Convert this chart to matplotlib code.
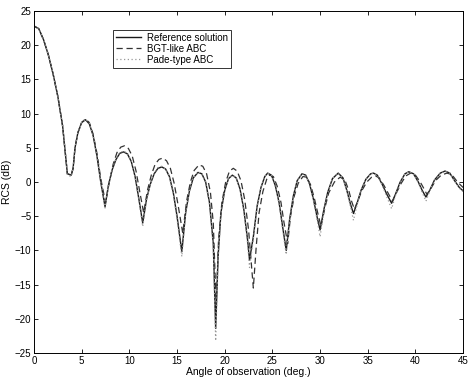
import matplotlib
matplotlib.use("Agg")
import matplotlib.pyplot as plt

plt.rcParams['font.family'] = ['Liberation Sans', 'DejaVu Sans']

# reference solution and Pade-type ABC share the same angle grid
angle = [0.0, 0.5, 1.0, 1.5, 2.0, 2.5, 3.0, 3.3, 3.5, 3.9, 4.1,
         4.3, 4.6, 5.0, 5.4, 5.8, 6.2, 6.6, 7.0, 7.45,
         7.8, 8.2, 8.6, 9.0, 9.4, 9.8, 10.2, 10.6, 11.0, 11.4,
         11.8, 12.2, 12.6, 13.0, 13.4, 13.8, 14.2, 14.6, 15.0, 15.5,
         15.9, 16.3, 16.7, 17.2, 17.6, 18.0, 18.4, 18.8, 19.05,
         19.3, 19.6, 20.0, 20.4, 20.8, 21.2, 21.6, 22.0, 22.4, 22.6,
         23.0, 23.4, 23.8, 24.2, 24.5, 24.9, 25.3, 25.7, 26.1, 26.45,
         26.8, 27.2, 27.6, 28.1, 28.5, 28.9, 29.3, 29.7, 30.0,
         30.4, 30.8, 31.3, 31.9, 32.4, 32.8, 33.2, 33.5,
         33.9, 34.3, 34.8, 35.3, 35.6, 36.0, 36.5, 37.0, 37.5,
         37.9, 38.4, 38.9, 39.3, 39.8, 40.3, 40.7, 41.1,
         41.5, 42.0, 42.6, 43.1, 43.6, 44.1, 44.6, 45.0]

rcs_ref = [22.8, 22.4, 20.8, 18.6, 15.8, 12.5, 8.2, 4.0, 1.2, 1.0, 2.0,
           5.0, 7.2, 8.7, 9.1, 8.5, 6.8, 3.8, 0.0, -3.6,
           -0.5, 1.8, 3.3, 4.2, 4.4, 4.1, 3.0, 0.8, -2.5, -6.0,
           -2.5, -0.3, 1.2, 2.0, 2.2, 1.9, 0.8, -1.5, -5.0, -10.2,
           -4.5, -1.3, 0.6, 1.4, 1.2, 0.0, -3.0, -9.0, -21.4,
           -11.0, -4.5, -1.2, 0.5, 1.0, 0.6, -1.0, -4.0, -8.5, -11.4,
           -8.0, -3.5, -0.8, 0.8, 1.3, 1.0, -0.5, -3.0, -6.8, -10.0,
           -5.5, -2.0, 0.2, 1.2, 1.0, -0.3, -2.5, -5.2, -7.0,
           -4.0, -1.5, 0.5, 1.3, 0.6, -1.2, -3.3, -4.6,
           -3.0, -1.2, 0.4, 1.2, 1.3, 1.0, -0.3, -1.8, -3.1,
           -1.8, 0.0, 1.2, 1.5, 1.2, 0.0, -1.2, -2.2,
           -1.2, 0.3, 1.3, 1.6, 1.3, 0.2, -0.8, -1.3]

rcs_pade = [22.8, 22.4, 20.8, 18.6, 15.8, 12.5, 8.2, 4.0, 1.0, 0.8, 2.0,
            5.0, 7.2, 8.7, 9.2, 8.6, 6.8, 3.8, 0.0, -3.8,
            -0.4, 1.9, 3.4, 4.3, 4.5, 4.2, 3.0, 0.7, -2.7, -6.5,
            -2.6, -0.3, 1.2, 2.1, 2.3, 1.9, 0.7, -1.7, -5.4, -10.9,
            -4.6, -1.3, 0.6, 1.5, 1.2, -0.1, -3.2, -9.5, -23.2,
            -11.5, -4.6, -1.2, 0.5, 1.0, 0.6, -1.1, -4.2, -9.0, -12.5,
            -8.3, -3.6, -0.8, 0.8, 1.3, 1.0, -0.6, -3.2, -7.2, -10.6,
            -5.7, -2.0, 0.2, 1.2, 1.0, -0.4, -2.7, -5.6, -8.0,
            -4.2, -1.5, 0.5, 1.3, 0.6, -1.3, -3.7, -5.6,
            -3.2, -1.2, 0.4, 1.2, 1.3, 1.0, -0.4, -2.2, -3.9,
            -2.0, 0.0, 1.2, 1.5, 1.2, -0.1, -1.5, -2.8,
            -1.3, 0.3, 1.3, 1.6, 1.3, 0.1, -0.9, -1.4]

# BGT-like ABC, slightly shifted lobes
angle_bgt = [0.0, 0.5, 1.0, 1.5, 2.0, 2.5, 3.0, 3.3, 3.5, 3.9, 4.1,
             4.3, 4.6, 5.0, 5.4, 5.8, 6.2, 6.6, 7.0, 7.5,
             7.9, 8.3, 8.7, 9.1, 9.5, 9.9, 10.3, 10.7, 11.1, 11.5,
             11.9, 12.3, 12.7, 13.1, 13.5, 13.9, 14.3, 14.7, 15.1, 15.6,
             16.0, 16.4, 16.8, 17.3, 17.7, 18.1, 18.5, 18.8, 19.1,
             19.35, 19.7, 20.1, 20.5, 20.9, 21.3, 21.7, 22.1, 22.5, 23.0,
             23.3, 23.6, 24.0, 24.4, 24.7, 25.1, 25.5, 25.9, 26.2, 26.6,
             26.9, 27.3, 27.7, 28.2, 28.6, 29.0, 29.4, 29.8, 30.1,
             30.5, 30.9, 31.5, 32.1, 32.6, 33.0, 33.3, 33.6,
             34.0, 34.4, 34.9, 35.4, 35.8, 36.2, 36.7, 37.2, 37.6,
             38.0, 38.5, 39.0, 39.5, 40.0, 40.5, 40.9, 41.2,
             41.6, 42.1, 42.7, 43.3, 43.8, 44.3, 44.7, 45.0]

rcs_bgt = [22.8, 22.4, 20.8, 18.6, 15.8, 12.5, 8.2, 4.0, 1.2, 1.0, 2.0,
           5.0, 7.2, 8.7, 9.2, 8.7, 7.0, 4.2, 0.5, -3.0,
           0.0, 2.6, 4.3, 5.1, 5.3, 4.9, 3.8, 1.6, -1.5, -4.5,
           -1.2, 1.0, 2.6, 3.3, 3.5, 3.1, 2.0, -0.2, -3.3, -7.5,
           -2.8, 0.0, 1.7, 2.5, 2.3, 1.2, -1.5, -6.0, -18.0,
           -8.5, -3.0, 0.0, 1.6, 2.0, 1.6, 0.2, -2.6, -7.0, -15.5,
           -9.5, -4.5, -1.4, 0.4, 1.0, 0.8, -0.6, -3.0, -5.8, -9.0,
           -5.0, -2.0, -0.2, 0.8, 0.7, -0.4, -2.4, -4.8, -6.5,
           -3.8, -1.6, 0.0, 0.7, 0.3, -1.2, -2.8, -4.0,
           -2.6, -1.2, 0.0, 0.7, 0.9, 0.6, -0.5, -1.8, -2.8,
           -1.6, -0.2, 0.9, 1.3, 1.0, 0.0, -1.0, -1.8,
           -1.0, 0.2, 1.0, 1.3, 1.1, 0.2, -0.4, -0.8]

fig = plt.figure(figsize=(4.69, 3.78), dpi=100)
ax = fig.add_axes([0.0725, 0.066, 0.915, 0.905])

ax.plot(angle, rcs_ref, color='#1a1a1a', lw=1.0, ls='-', label='Reference solution')
ax.plot(angle_bgt, rcs_bgt, color='#333333', lw=0.9, ls=(0, (5, 3)), label='BGT-like ABC')
ax.plot(angle, rcs_pade, color='#999999', lw=0.9, ls=(0, (1, 2)), label='Pade-type ABC')

ax.set_xlim(0, 45)
ax.set_ylim(-25, 25)
ax.set_xticks(range(0, 46, 5))
ax.set_yticks(range(-25, 26, 5))
ax.tick_params(direction='in', top=True, right=True, labelsize=7, length=3, width=0.6, pad=2)
for s in ax.spines.values():
    s.set_linewidth(0.7)
ax.set_xlabel('Angle of observation (deg.)', fontsize=7.5, labelpad=1)
ax.set_ylabel('RCS (dB)', fontsize=7.5, labelpad=2)

leg = ax.legend(loc='upper left', bbox_to_anchor=(0.184, 0.945), fontsize=7,
                frameon=True, fancybox=False, edgecolor='black',
                borderpad=0.3, labelspacing=0.1, handlelength=2.6,
                handletextpad=0.6, borderaxespad=0)
leg.get_frame().set_linewidth(0.7)

fig.savefig('out.png', dpi=100)
